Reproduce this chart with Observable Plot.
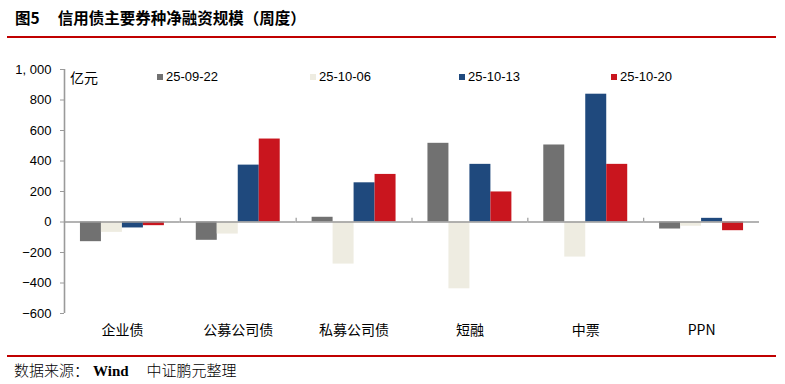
<!DOCTYPE html>
<html>
<head>
<meta charset="utf-8">
<script src="https://cdn.jsdelivr.net/npm/d3@7"></script>
<script src="https://cdn.jsdelivr.net/npm/@observablehq/plot@0.6"></script>
<style>
  html, body { margin: 0; padding: 0; background: #fff; }
  body { width: 785px; height: 384px; position: relative; overflow: hidden; font-family: "Noto Sans CJK SC", "Liberation Sans", sans-serif; }
  #title { position: absolute; left: 15px; top: 7px; font-size: 15.5px; line-height: 20px; font-weight: 700; color: #000; white-space: nowrap; }
  #title .num { font-weight: 700; margin-right: 18px; }
  .redline { position: absolute; left: 7px; width: 769px; height: 2px; background: #C00000; }
  #chart { position: absolute; left: 0; top: 45px; }
  #unit { position: absolute; left: 70px; top: 68px; font-size: 14px; line-height: 18px; color: #000; }
  .leg { position: absolute; top: 69px; font-family: "Liberation Sans", sans-serif; font-size: 13px; line-height: 16px; color: #000; white-space: nowrap; }
  .leg i { display: inline-block; width: 6px; height: 6px; margin-right: 3px; vertical-align: 1px; }
  #source { position: absolute; left: 14px; top: 360px; font-size: 15px; line-height: 20px; color: #000; font-weight: 300; white-space: nowrap; }
  #source .w { font-family: "Liberation Serif", serif; font-weight: 700; margin: 0 18px 0 4px; }
</style>
</head>
<body>
<div id="title"><span class="num">图5</span>信用债主要券种净融资规模（周度）</div>
<div class="redline" style="top:36px"></div>
<div id="chart"></div>
<div id="unit">亿元</div>
<div id="legend"></div>
<div class="redline" style="top:355px"></div>
<div id="source">数据来源：<span class="w">Wind</span>中证鹏元整理</div>
<script>
const categories = ["企业债", "公募公司债", "私募公司债", "短融", "中票", "PPN"];
const seriesNames = ["25-09-22", "25-10-06", "25-10-13", "25-10-20"];
const v0922 = [-129, -120, 31, 516, 505, -46];
const v1006 = [-68, -79, -276, -438, -230, -28];
const v1013 = [-39, 373, 257, 378, 838, 24];
const v1020 = [-24, 544, 312, 197, 378, -57];
const yTicks = [-600, -400, -200, 0, 200, 400, 600, 800, 1000];
const colors = ["#717171", "#EEECE1", "#1F497D", "#C9151E"];

const seriesValues = [v0922, v1006, v1013, v1020];
const rows = [];
categories.forEach((c, ci) => seriesNames.forEach((s, si) => rows.push({cat: c, series: s, value: seriesValues[si][ci]})));

const W = 785, H = 300, ML = 64, MR = 26, MT = 24, MB = 32;
const PO = 0.76;
const bw = (W - ML - MR) / categories.length;
const step = bw / (seriesNames.length + 2 * PO);
const off = step * (PO + 0.5);
const axisColor = "#9A9A9A";

const fmt = d => d === 1000 ? "1, 000" : d < 0 ? "−" + Math.abs(d) : String(d);

const chart = Plot.plot({
  width: W, height: H,
  marginLeft: ML, marginRight: MR, marginTop: MT, marginBottom: MB,
  style: {fontFamily: "'Liberation Sans', sans-serif", fontSize: "13px", color: "#000", background: "#fff"},
  fx: {domain: categories, padding: 0, round: false, label: null, tickSize: 0, tickPadding: 12, axis: "bottom"},
  x: {domain: seriesNames, paddingInner: 0, paddingOuter: PO, round: false, axis: null},
  y: {domain: [-600, 1000], ticks: yTicks, tickFormat: fmt, tickSize: 4, tickPadding: 9, label: null},
  color: {domain: seriesNames, range: colors},
  marks: [
    Plot.barY(rows, {fx: "cat", x: "series", y: "value", fill: "series"}),
    Plot.ruleY([0], {stroke: axisColor, strokeWidth: 1.6}),
    Plot.ruleX(categories.slice(1).map(c => ({cat: c, s: seriesNames[0]})), {fx: "cat", x: "s", y1: 0, y2: 25, dx: -off, stroke: axisColor, strokeWidth: 1.2}),
    Plot.ruleX([{cat: categories[0], s: seriesNames[0]}], {fx: "cat", x: "s", y1: -600, y2: 1000, dx: -off, stroke: axisColor, strokeWidth: 1.6})
  ]
});
document.getElementById("chart").appendChild(chart);

// axis styling
chart.querySelectorAll('g[aria-label="y-axis tick"] path, g[aria-label="y-axis tick"]').forEach(e => e.setAttribute("stroke", axisColor));
const fxLabels = chart.querySelector('g[aria-label="fx-axis tick label"]');
if (fxLabels) { fxLabels.setAttribute("font-size", "14px"); fxLabels.setAttribute("font-family", "'Noto Sans CJK SC', sans-serif"); }
const yLabels = chart.querySelector('g[aria-label="y-axis tick label"]');
if (yLabels) { yLabels.setAttribute("font-size", "13px"); }

// legend
const legX = [157, 310, 459, 611];
const leg = document.getElementById("legend");
seriesNames.forEach((s, i) => {
  const d = document.createElement("div");
  d.className = "leg";
  d.style.left = legX[i] + "px";
  d.innerHTML = `<i style="background:${colors[i]}"></i>${s}`;
  leg.appendChild(d);
});
</script>
</body>
</html>
